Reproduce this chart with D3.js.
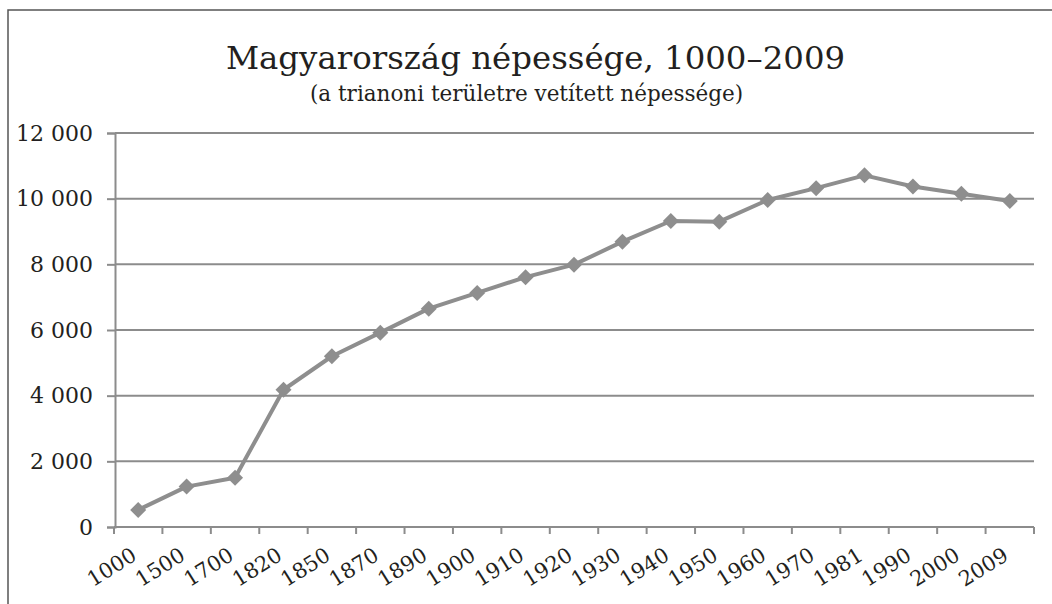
<!DOCTYPE html>
<html><head><meta charset="utf-8">
<script src="https://cdn.jsdelivr.net/npm/d3@7"></script>
<style>
html,body{margin:0;padding:0;background:#fff;}
svg{display:block;}
text{font-family:"DejaVu Serif",serif;fill:#231f20;}
</style></head><body>
<svg id="chart" width="1052" height="604"></svg>
<script>
const categories = ["1000","1500","1700","1820","1850","1870","1890","1900","1910","1920","1930","1940","1950","1960","1970","1981","1990","2000","2009"];
const population = [520,1230,1500,4180,5200,5920,6650,7130,7610,7990,8690,9320,9300,9960,10320,10710,10370,10150,9930];
const yTicks = [0,2000,4000,6000,8000,10000,12000];
const title = "Magyarország népessége, 1000–2009";
const subtitle = "(a trianoni területre vetített népessége)";

(function(){
const svg = d3.select("#chart");
const pLeft = 115, pRight = 1034, pTop = 133, pBottom = 527;
const gridColor = "#8c8c8c";

// outer frame
svg.append("rect").attr("x",8).attr("y",10).attr("width",1060).attr("height",620)
  .attr("fill","none").attr("stroke","#555").attr("stroke-width",1.5);

svg.append("text").attr("x",535.5).attr("y",69).attr("text-anchor","middle")
  .style("font-size","32.4px").text(title);
svg.append("text").attr("x",526.5).attr("y",101).attr("text-anchor","middle")
  .style("font-size","21.5px").text(subtitle);

const x = d3.scaleBand().domain(categories).range([pLeft-1, pRight]).padding(0);
const y = d3.scaleLinear().domain([0,12000]).range([pBottom, pTop]);

// gridlines
svg.append("g").selectAll("line").data(yTicks.filter(d=>d>0)).join("line")
  .attr("x1",pLeft).attr("x2",pRight).attr("y1",d=>y(d)).attr("y2",d=>y(d))
  .attr("stroke",gridColor).attr("stroke-width",2);

const fmt = d => d3.format(",")(d).replace(/,/g," ");

const yAxis = svg.append("g").attr("transform",`translate(${pLeft},0)`)
  .call(d3.axisLeft(y).tickValues(yTicks).tickSize(8).tickPadding(14).tickFormat(fmt));
yAxis.select(".domain").attr("stroke",gridColor).attr("stroke-width",2);
yAxis.selectAll(".tick line").attr("stroke",gridColor).attr("stroke-width",2);
yAxis.selectAll("text").style("font-size","22px").attr("fill","#231f20").style("font-family","'DejaVu Serif',serif");

// x axis
const xAxisG = svg.append("g").attr("transform",`translate(0,${pBottom})`);
xAxisG.append("line").attr("x1",pLeft-1).attr("x2",pRight).attr("stroke",gridColor).attr("stroke-width",2);
const bounds = categories.map(c=>x(c)).concat([pRight]);
xAxisG.selectAll("line.tk").data(bounds).join("line").attr("class","tk")
  .attr("x1",d=>d).attr("x2",d=>d).attr("y1",0).attr("y2",7)
  .attr("stroke",gridColor).attr("stroke-width",2);
xAxisG.selectAll("text").data(categories).join("text")
  .attr("transform",d=>`translate(${x(d)+x.bandwidth()/2},${32}) rotate(-32)`)
  .attr("text-anchor","end").style("font-size","21px").text(d=>d);

// line
const cx = d => x(d) + x.bandwidth()/2;
const line = d3.line().x((d,i)=>cx(categories[i])).y(d=>y(d));
svg.append("path").datum(population).attr("d",line)
  .attr("fill","none").attr("stroke","#8e8e8e").attr("stroke-width",4).attr("stroke-linejoin","round");

svg.append("g").selectAll("path").data(population).join("path")
  .attr("d","M0,-8L8,0L0,8L-8,0Z")
  .attr("transform",(d,i)=>`translate(${cx(categories[i])},${y(d)})`)
  .attr("fill","#8e8e8e");
})();
</script>
</body></html>
